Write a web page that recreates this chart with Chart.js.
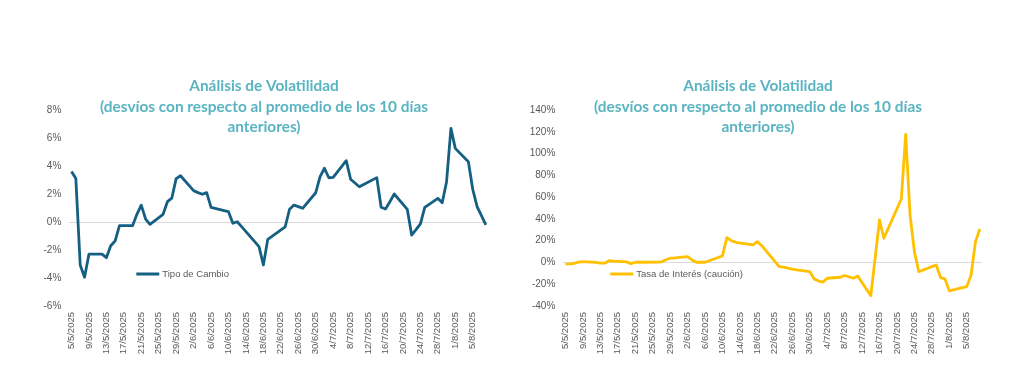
<!DOCTYPE html>
<html>
<head>
<meta charset="utf-8">
<script src="https://cdn.jsdelivr.net/npm/chart.js@4.4.1/dist/chart.umd.min.js"></script>
<style>
    html, body { margin: 0; padding: 0; background: #fff; overflow: hidden; }
    .box { position: absolute; top: 0; width: 494px; height: 384px; }
</style>
</head>
<body>
<div class="box" style="left:0"><canvas id="fx"></canvas></div>
<div class="box" style="left:494px"><canvas id="rate"></canvas></div>
<script>
// trading days shown on both charts
var dates = [
    '2025-05-05', '2025-05-06', '2025-05-07', '2025-05-08', '2025-05-09',
    '2025-05-12', '2025-05-13', '2025-05-14', '2025-05-15', '2025-05-16',
    '2025-05-19', '2025-05-20', '2025-05-21', '2025-05-22', '2025-05-23',
    '2025-05-26', '2025-05-27', '2025-05-28', '2025-05-29', '2025-05-30',
    '2025-06-02', '2025-06-03', '2025-06-04', '2025-06-05', '2025-06-06',
    '2025-06-09', '2025-06-10', '2025-06-11', '2025-06-12', '2025-06-13',
    '2025-06-17', '2025-06-18', '2025-06-19',
    '2025-06-23', '2025-06-24', '2025-06-25', '2025-06-26', '2025-06-27',
    '2025-06-30', '2025-07-01', '2025-07-02', '2025-07-03', '2025-07-04',
    '2025-07-07', '2025-07-08', '2025-07-10', '2025-07-11',
    '2025-07-14', '2025-07-15', '2025-07-16', '2025-07-17', '2025-07-18',
    '2025-07-21', '2025-07-22', '2025-07-23', '2025-07-24', '2025-07-25',
    '2025-07-28', '2025-07-29', '2025-07-30', '2025-07-31', '2025-08-01',
    '2025-08-04', '2025-08-05', '2025-08-06', '2025-08-07', '2025-08-08'
];

// desvio (%) - Tipo de Cambio
var tipoCambio = [
    3.6, 3.1, -3.07, -3.95, -2.3,
    -2.3, -2.55, -1.7, -1.36, -0.26,
    -0.26, 0.55, 1.2, 0.2, -0.17,
    0.55, 1.45, 1.7, 3.1, 3.3,
    2.24, 2.1, 1.98, 2.1, 1.05,
    0.82, 0.74, -0.09, 0.02, -0.33,
    -1.76, -3.07, -1.24,
    -0.34, 0.91, 1.21, 1.1, 0.98,
    2.09, 3.24, 3.84, 3.16, 3.19,
    4.38, 3.05, 2.52, 2.68,
    3.17, 1.05, 0.93, 1.45, 2.0,
    0.9, -0.93, -0.55, -0.14, 1.05,
    1.69, 1.38, 2.88, 6.69, 5.26,
    4.31, 2.34, 1.1, 0.45, -0.21
];

// desvio (%) - Tasa de Interes (caucion)
var tasaCaucion = [
    -1.6, -1.4, -0.8, 0.2, 0.7,
    0.0, -0.7, -0.7, 1.7, 1.2,
    0.5, -1.1, 0.2, 0.2, 0.2,
    0.3, 0.5, 2.5, 3.9, 4.1,
    5.3, 2.3, 0.2, 0.2, 0.2,
    4.5, 6.0, 22.8, 20.0, 18.5,
    16.1, 19.1, 15.4,
    -3.9, -4.4, -5.3, -6.1, -6.9,
    -8.4, -15.1, -17.0, -18.2, -14.5,
    -13.6, -12.0, -14.5, -12.4,
    -30.5, 4.0, 39.0, 22.2, 31.3,
    58.3, 117.6, 43.6, 9.9, -8.5,
    -3.8, -2.3, -13.9, -15.1, -26.1,
    -23.2, -22.2, -11.5, 19.1, 30.7
];

var xTickLabels = [
    '5/5/2025', '9/5/2025', '13/5/2025', '17/5/2025', '21/5/2025', '25/5/2025',
    '29/5/2025', '2/6/2025', '6/6/2025', '10/6/2025', '14/6/2025', '18/6/2025',
    '22/6/2025', '26/6/2025', '30/6/2025', '4/7/2025', '8/7/2025', '12/7/2025',
    '16/7/2025', '20/7/2025', '24/7/2025', '28/7/2025', '1/8/2025', '5/8/2025'
];

var titleLines = ['Análisis de Volatilidad', '(desvíos con respecto al promedio de los 10 días', 'anteriores)'];

var day0 = Date.UTC(2025, 4, 5);
function dayIndex(iso) {
    return Math.round((Date.parse(iso + 'T00:00:00Z') - day0) / 86400000);
}
function labelDay(lbl) {
    var p = lbl.split('/');
    return Math.round((Date.UTC(+p[2], +p[1] - 1, +p[0]) - day0) / 86400000);
}

var GREY = '#595959';
var tickFont = { family: '"Liberation Sans", Arial, sans-serif', size: 9.5 };

// title floats over the top of the plot (as in the spreadsheet)
var overlayTitle = {
    id: 'overlayTitle',
    afterDraw: function (chart, args, opts) {
        var ctx = chart.ctx;
        ctx.save();
        ctx.fillStyle = '#5AB4C2';
        ctx.font = 'bold 15.4px Lato, "Open Sans", sans-serif';
        ctx.textAlign = 'center';
        ctx.textBaseline = 'middle';
        for (var i = 0; i < opts.lines.length; i++) {
            ctx.fillText(opts.lines[i], opts.x, opts.y + i * 20.6);
        }
        ctx.restore();
    }
};

// legend drawn inside the plot, like the spreadsheet one
var inlineLegend = {
    id: 'inlineLegend',
    afterDraw: function (chart, args, opts) {
        var ctx = chart.ctx, area = chart.chartArea, ds = chart.data.datasets[0];
        var x = area.left + opts.x, y = area.top + opts.y;
        ctx.save();
        ctx.strokeStyle = ds.borderColor;
        ctx.lineWidth = 3;
        ctx.beginPath();
        ctx.moveTo(x, y);
        ctx.lineTo(x + 23, y);
        ctx.stroke();
        ctx.fillStyle = GREY;
        ctx.font = '9.5px "Liberation Sans", Arial, sans-serif';
        ctx.textBaseline = 'middle';
        ctx.fillText(ds.label, x + 26, y);
        ctx.restore();
    }
};

function makeChart(id, label, values, color, yMin, yMax, yStep, legendPos) {
    var points = [];
    for (var i = 0; i < dates.length; i++) {
        points.push({ x: dayIndex(dates[i]), y: values[i] });
    }
    return new Chart(document.getElementById(id), {
        type: 'line',
        data: {
            datasets: [{
                label: label,
                data: points,
                borderColor: color,
                backgroundColor: color,
                borderWidth: 2.8,
                pointRadius: 0,
                tension: 0,
                borderJoinStyle: 'round'
            }]
        },
        options: {
            responsive: true,
            maintainAspectRatio: false,
            animation: false,
            layout: { padding: { left: 0, right: 6, top: 110, bottom: 0 } },
            plugins: {
                legend: { display: false },
                tooltip: { enabled: false },
                title: { display: false },
                overlayTitle: { lines: titleLines, x: 264, y: 86 },
                inlineLegend: legendPos
            },
            scales: {
                x: {
                    type: 'linear',
                    min: -0.5,
                    max: 95.5,
                    afterBuildTicks: function (scale) {
                        scale.ticks = xTickLabels.map(function (l) { return { value: labelDay(l) } });
                    },
                    afterFit: function (scale) { scale.height = 78 },
                    grid: { display: false },
                    border: { display: false },
                    ticks: {
                        autoSkip: false,
                        minRotation: 90,
                        maxRotation: 90,
                        padding: -2,
                        color: GREY,
                        font: tickFont,
                        callback: function (v, i) { return xTickLabels[i] }
                    }
                },
                y: {
                    min: yMin,
                    max: yMax,
                    afterFit: function (scale) { scale.width = 69.3 },
                    border: { display: false },
                    grid: {
                        drawTicks: false,
                        color: function (c) { return c.tick && c.tick.value === 0 ? '#D9D9D9' : 'rgba(0,0,0,0)' }
                    },
                    ticks: {
                        stepSize: yStep,
                        padding: 8,
                        color: GREY,
                        font: { family: '"Liberation Sans", Arial, sans-serif', size: 10 },
                        callback: function (v) { return v + '%' }
                    }
                }
            }
        },
        plugins: [overlayTitle, inlineLegend]
    });
}

makeChart('fx', 'Tipo de Cambio', tipoCambio, '#156082', -6, 8, 2, { x: 67, y: 164 });
makeChart('rate', 'Tasa de Interés (caución)', tasaCaucion, '#FFC000', -40, 140, 20, { x: 47, y: 164 });
</script>
</body>
</html>
